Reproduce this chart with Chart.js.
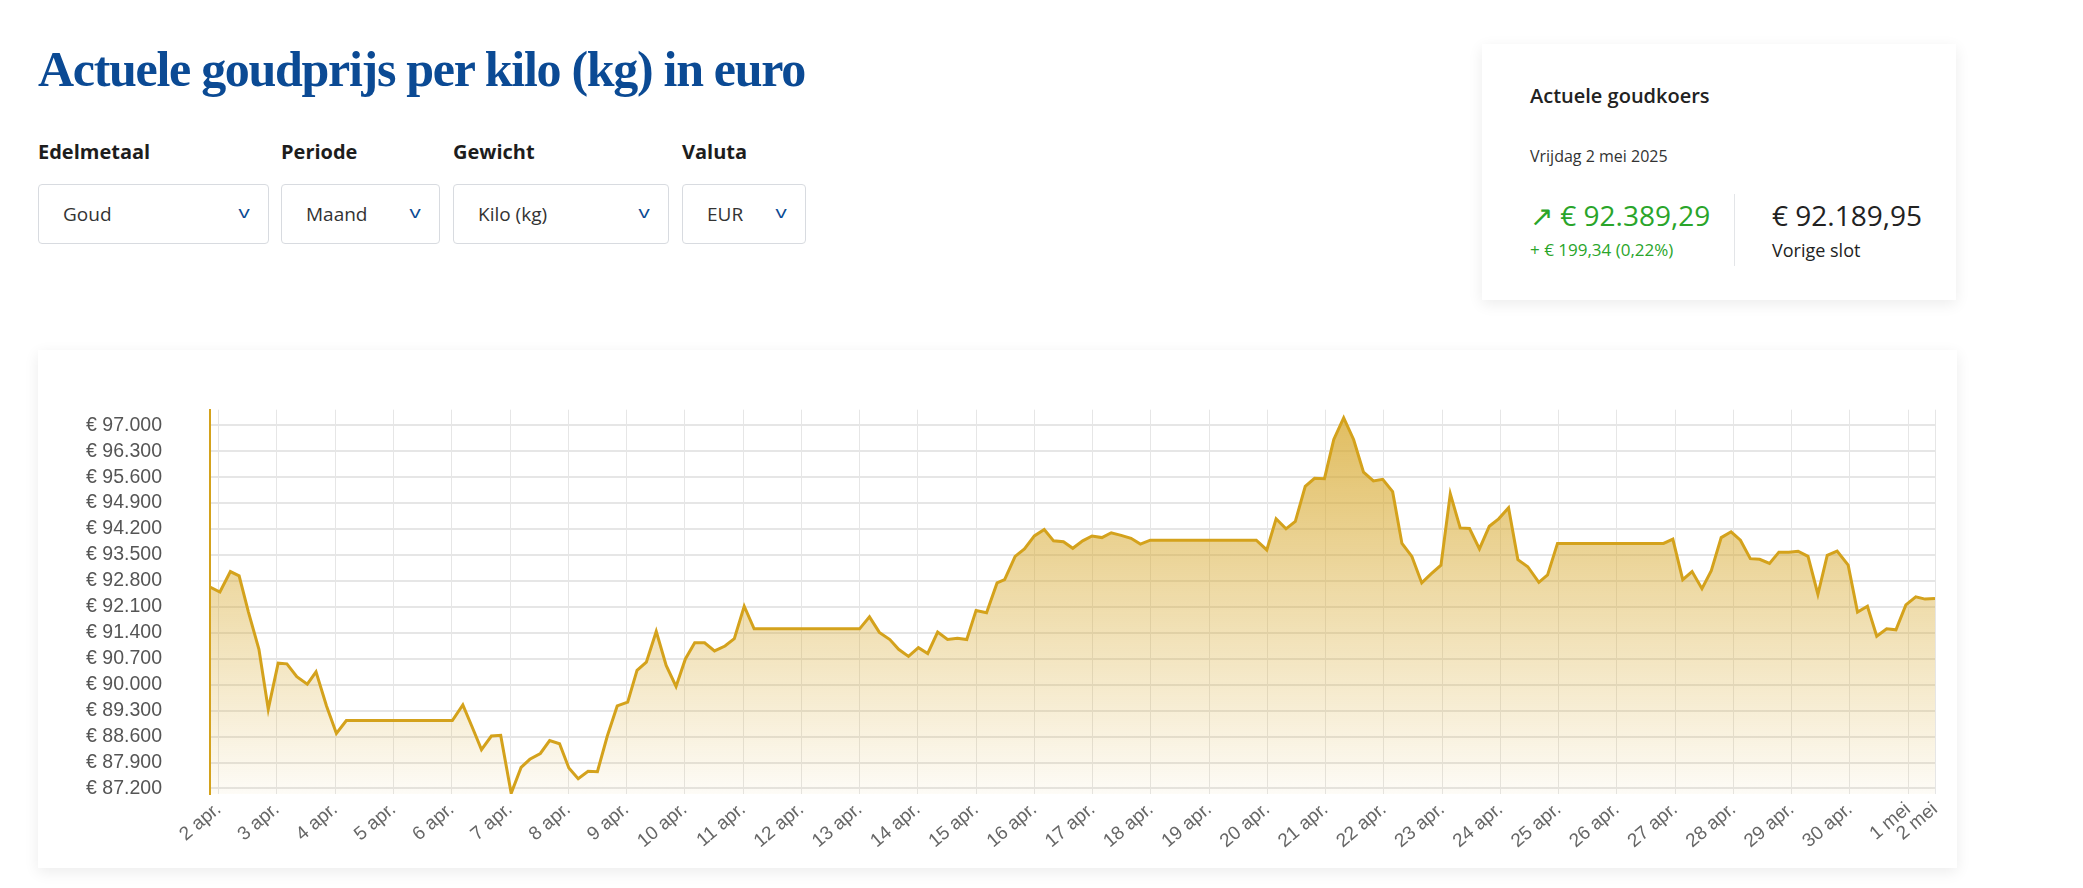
<!DOCTYPE html>
<html>
<head>
<meta charset="utf-8">
<script src="https://cdn.jsdelivr.net/npm/chart.js@4"></script>
<style>
  body { margin: 0; width: 2083px; height: 888px; background: #fff; font-family: "Open Sans", "Noto Sans", sans-serif; position: relative; overflow: hidden; }
  h1 { position: absolute; left: 38px; top: 40px; margin: 0; font-family: "Liberation Serif", serif; font-weight: bold; font-size: 50px; letter-spacing: -1.3px; color: #0b4a94; }
  .lbl { position: absolute; top: 138px; font-weight: 700; font-size: 20px; color: #1d1d1d; }
  .sel { position: absolute; top: 184px; height: 60px; border: 1px solid #d8dbe0; border-radius: 4px; box-sizing: border-box; font-size: 19px; color: #333; padding-left: 24px; line-height: 58px; }
  .sel span { position: absolute; right: 20px; top: -2px; color: #0b4a94; font-size: 16px; transform: scaleX(1.4); }
  .card { position: absolute; background: #fff; box-shadow: 0 4px 14px rgba(0,0,0,0.08); }
  #info div { position: absolute; }
</style>
</head>
<body>
<h1>Actuele goudprijs per kilo (kg) in euro</h1>
<div class="lbl" style="left:38px">Edelmetaal</div>
<div class="lbl" style="left:281px">Periode</div>
<div class="lbl" style="left:453px">Gewicht</div>
<div class="lbl" style="left:682px">Valuta</div>
<div class="sel" style="left:38px;width:231px">Goud<span>v</span></div>
<div class="sel" style="left:281px;width:159px">Maand<span>v</span></div>
<div class="sel" style="left:453px;width:216px">Kilo (kg)<span>v</span></div>
<div class="sel" style="left:682px;width:124px">EUR<span>v</span></div>

<div class="card" id="info" style="left:1482px;top:44px;width:474px;height:256px">
  <div style="left:48px;top:38px;font-size:20px;font-weight:600;color:#222">Actuele goudkoers</div>
  <div style="left:48px;top:101px;font-size:16px;color:#333">Vrijdag 2 mei 2025</div>
  <div style="left:48px;top:152px;font-size:28px;color:#2aa52a">&#x2197;&#xFE0E; € 92.389,29</div>
  <div style="left:48px;top:194px;font-size:17px;color:#2aa52a">+ € 199,34 (0,22%)</div>
  <div style="left:252px;top:150px;width:1px;height:72px;background:#e3e5e8"></div>
  <div style="left:290px;top:152px;font-size:28px;color:#222">€ 92.189,95</div>
  <div style="left:290px;top:194px;font-size:18px;color:#222">Vorige slot</div>
</div>

<div class="card" style="left:38px;top:350px;width:1919px;height:518px">
  <canvas id="goudChart"></canvas>
</div>

<script>
// dag-offset vanaf 2 apr. 00:00
const dagen = [-0.15,0.02,0.2,0.35,0.51,0.69,0.85,1.02,1.17,1.34,1.52,1.67,1.85,2.02,2.19,4.01,4.19,4.35,4.51,4.68,4.84,5.02,5.19,5.34,5.52,5.68,5.85,6.01,6.17,6.34,6.5,6.67,6.84,7.02,7.18,7.34,7.51,7.68,7.85,8.01,8.17,8.34,8.51,8.69,8.85,9.02,9.19,11.0,11.17,11.34,11.52,11.67,11.84,12.01,12.17,12.34,12.51,12.68,12.84,13.0,13.18,13.36,
  13.49,13.67,13.83,14.0,14.17,14.33,14.5,14.66,14.83,14.99,15.16,15.32,15.49,15.66,15.82,15.99,17.81,17.99,18.15,18.32,18.48,18.65,18.81,18.98,19.14,19.31,19.48,19.65,19.82,19.98,20.15,20.31,20.48,20.65,20.81,20.98,21.14,21.31,21.47,21.64,21.81,21.97,22.14,22.3,22.47,22.66,22.81,22.98,24.8,24.96,25.13,25.29,25.46,25.62,25.79,25.96,26.12,26.29,26.45,26.62,26.78,26.95,27.11,27.28,27.45,27.61,27.78,27.97,28.13,28.3,28.46,28.63,28.79,28.96,29.13,29.29,29.46];
const prijzen = [92632,92501,93052,92938,91960,90955,89339,90580,90562,90213,90012,90344,89427,88684,89034,89034,89453,88859,88248,88614,88632,87068,87767,87986,88143,88492,88405,87750,87461,87662,87653,88614,89427,89531,90387,90606,91436,90518,89951,90693,91130,91130,90912,91043,91244,92117,91506,91506,91829,91410,91218,90955,90763,91000,90842,91419,91218,91252,91218,92004,91943,92746,
  92833,93462,93663,94013,94187,93881,93855,93680,93881,94013,93969,94100,94030,93951,93794,93899,93899,93637,94476,94205,94406,95349,95567,95559,96616,97201,96616,95733,95498,95541,95209,93812,93462,92746,92991,93226,95148,94231,94213,93663,94275,94476,94773,93375,93183,92763,92964,93812,93812,93925,92833,93052,92589,93078,93969,94126,93899,93401,93384,93270,93576,93576,93602,93462,92440,93488,93602,93226,91960,92117,91305,91506,91480,92152,92370,92309,92327];
const tickDagen = [0,1,2,3,4,5,6,7,8,9,10,11,12,13,14,15,16,17,18,19,20,21,22,23,24,25,26,27,28,29,29.46];
const tickLabels = ["2 apr.","3 apr.","4 apr.","5 apr.","6 apr.","7 apr.","8 apr.","9 apr.","10 apr.","11 apr.","12 apr.","13 apr.","14 apr.","15 apr.","16 apr.","17 apr.","18 apr.","19 apr.","20 apr.","21 apr.","22 apr.","23 apr.","24 apr.","25 apr.","26 apr.","27 apr.","28 apr.","29 apr.","30 apr.","1 mei","2 mei"];
const yTicks = [87200,87900,88600,89300,90000,90700,91400,92100,92800,93500,94200,94900,95600,96300,97000];

const goud = "#d4a21c";
const euro = v => "€ " + String(v).replace(/\B(?=(\d{3})+(?!\d))/g, ".");

const ctx = document.getElementById("goudChart");
ctx.style.width = "1919px";
ctx.style.height = "518px";

new Chart(ctx, {
  type: "line",
  data: {
    datasets: [{
      data: dagen.map((d, i) => ({ x: d, y: prijzen[i] })),
      borderColor: goud,
      borderWidth: 3,
      pointRadius: 0,
      tension: 0,
      fill: "start",
      backgroundColor: (c) => {
        const area = c.chart.chartArea;
        if (!area) return "rgba(212,162,28,0.3)";
        const g = c.chart.ctx.createLinearGradient(0, area.top, 0, area.bottom);
        g.addColorStop(0, "rgba(214,166,40,0.75)");
        g.addColorStop(1, "rgba(214,166,40,0.04)");
        return g;
      }
    }]
  },
  options: {
    responsive: false,
    animation: false,
    layout: { padding: { top: 4, right: 22, left: 0, bottom: 0 } },
    plugins: { legend: { display: false }, tooltip: { enabled: false } },
    scales: {
      x: {
        type: "linear",
        min: -0.15,
        max: 29.46,
        afterBuildTicks: s => { s.ticks = tickDagen.map(v => ({ value: v })); },
        afterFit: s => { s.height = 74; },
        ticks: {
          autoSkip: false,
          maxRotation: 40,
          minRotation: 40,
          padding: 4,
          color: "#666",
          font: { family: "Liberation Sans", size: 19 },
          callback: (v, i) => tickLabels[i]
        },
        grid: { color: "#e6e6e6", drawTicks: false },
        border: { display: false }
      },
      y: {
        min: 87050,
        max: 97420,
        afterBuildTicks: s => { s.ticks = yTicks.map(v => ({ value: v })); },
        afterFit: s => { s.width = 172; },
        ticks: {
          padding: 48,
          color: "#555",
          font: { family: "Liberation Sans", size: 19.5 },
          callback: v => euro(v)
        },
        grid: { color: "#e6e6e6", drawTicks: false, lineWidth: 2 },
        border: { color: goud, width: 2 }
      }
    }
  }
});
</script>
</body>
</html>
